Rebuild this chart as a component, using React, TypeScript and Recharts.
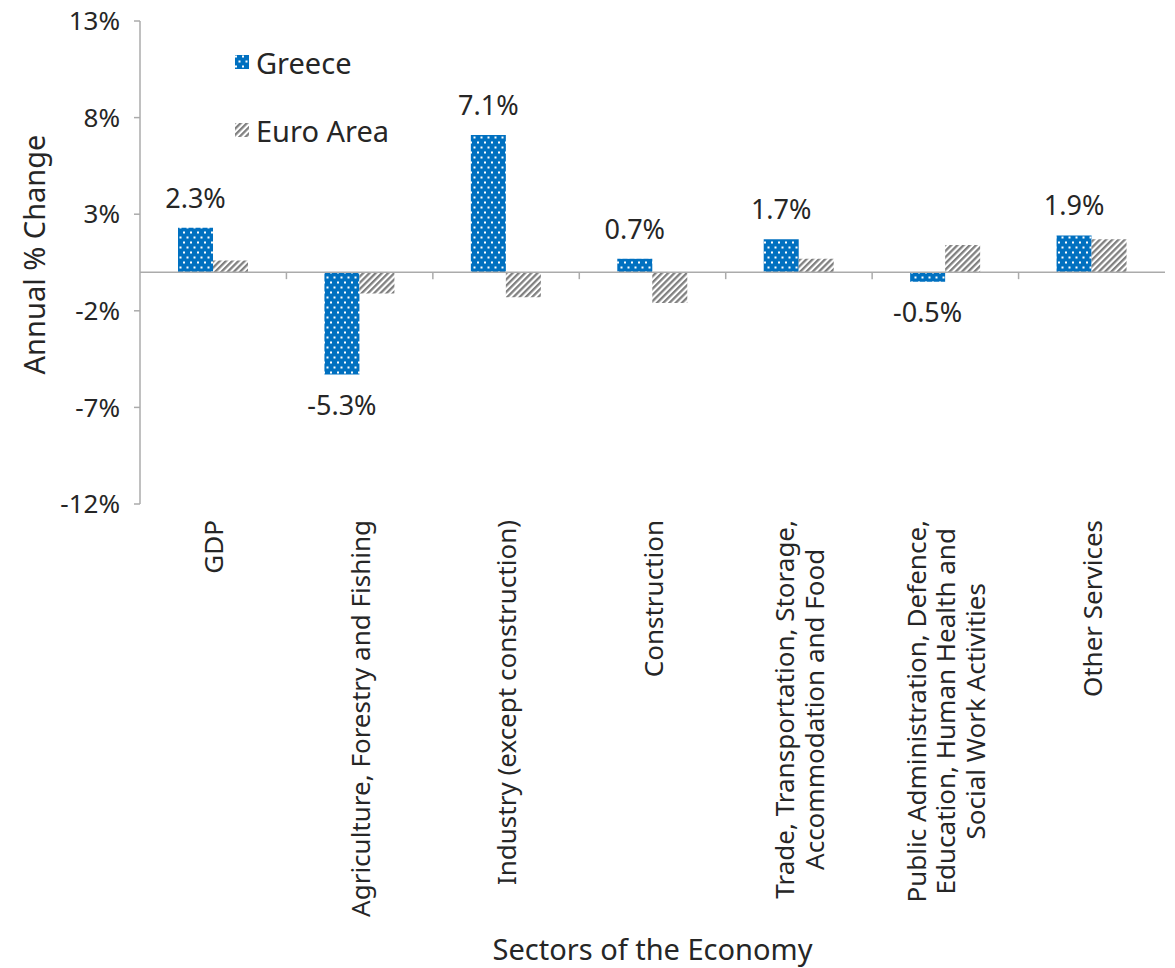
import { BarChart, Bar, XAxis, YAxis, ReferenceLine, LabelList, Legend } from "recharts";

const sectors = [
  "GDP",
  "Agriculture, Forestry and Fishing",
  "Industry (except construction)",
  "Construction",
  "Trade, Transportation, Storage,\nAccommodation and Food",
  "Public Administration, Defence,\nEducation, Human Health and\nSocial Work Activities",
  "Other Services",
];
const greece = [2.3, -5.3, 7.1, 0.7, 1.7, -0.5, 1.9];
const euroArea = [0.6, -1.1, -1.3, -1.6, 0.7, 1.4, 1.7];
const yTicks = [-12, -7, -2, 3, 8, 13];

const data = sectors.map((sector, i) => ({ sector, greece: greece[i], euroArea: euroArea[i] }));

const FONT = '"Noto Sans", sans-serif';
const TEXT = "#262626";
const AXIS = "#ababab";
const BLUE = "#0070C0";
const GREY = "#808080";

const measureCtx = typeof document !== "undefined" ? document.createElement("canvas").getContext("2d") : null;
function textWidth(s: string, font: string) {
  if (!measureCtx) return s.length * 13;
  measureCtx.font = font;
  return measureCtx.measureText(s).width;
}

function Patterns({ suffix }: { suffix: string }) {
  return (
    <defs>
      <pattern id={`dots${suffix}`} width="7" height="10" patternUnits="userSpaceOnUse">
        <rect width="7" height="10" fill={BLUE} />
        <rect x="1" y="1.5" width="2" height="2" fill="#fff" />
        <rect x="4.5" y="6.5" width="2" height="2" fill="#fff" />
      </pattern>
      <pattern id={`stripes${suffix}`} width="4.4" height="8" patternUnits="userSpaceOnUse" patternTransform="rotate(45)">
        <rect width="4.4" height="8" fill="#fff" />
        <rect width="2.3" height="8" fill={GREY} />
      </pattern>
    </defs>
  );
}

function SectorTick({ x, y, payload }: any) {
  const size = 26;
  const lines = String(payload.value).split("\n");
  const maxW = Math.max(...lines.map((l) => textWidth(l, `${size}px ${FONT}`)));
  const lh = 29.5;
  return (
    <g transform={`translate(${x},${y}) rotate(-90)`}>
      {lines.map((l, i) => (
        <text
          key={i}
          x={-maxW / 2}
          y={(i - (lines.length - 1) / 2) * lh}
          textAnchor="middle"
          dominantBaseline="central"
          fontSize={size}
          fontFamily={FONT}
          fill={TEXT}
        >
          {l}
        </text>
      ))}
    </g>
  );
}

function renderZeroTicks(props: any) {
  const vb = props.viewBox;
  if (!vb) return null;
  const step = vb.width / sectors.length;
  return (
    <g>
      {sectors.slice(1).map((_, i) => (
        <line key={i} x1={vb.x + step * (i + 1)} x2={vb.x + step * (i + 1)} y1={vb.y} y2={vb.y + 7} stroke={AXIS} strokeWidth={1.5} />
      ))}
    </g>
  );
}

function renderValueLabel(props: any) {
  const { x, y, width, height, value } = props;
  const top = Math.min(y, y + height);
  const bottom = Math.max(y, y + height);
  const ty = value >= 0 ? top - 20 : bottom + 40;
  return (
    <text x={x + width / 2} y={ty} textAnchor="middle" fontSize={27} fontFamily={FONT} fill={TEXT}>
      {`${value.toFixed(1)}%`}
    </text>
  );
}

const legendItems = [
  { name: "Greece", fill: "url(#dotsLegend)" },
  { name: "Euro Area", fill: "url(#stripesLegend)" },
];

function LegendContent() {
  return (
    <div style={{ fontFamily: FONT, fontSize: 29, color: TEXT }}>
      {legendItems.map((item) => (
        <div key={item.name} style={{ display: "flex", alignItems: "center", height: 68 }}>
          <svg width={16} height={16} style={{ marginRight: 6 }}>
            <Patterns suffix="Legend" />
            <rect x={1} y={1} width={14} height={14} fill={item.fill} />
          </svg>
          <span>{item.name}</span>
        </div>
      ))}
    </div>
  );
}

function renderYTitle(props: any) {
  const vb = props.viewBox;
  const cx = 33;
  const cy = vb.y + vb.height / 2 - 8;
  return (
    <text transform={`translate(${cx},${cy}) rotate(-90)`} textAnchor="middle" dominantBaseline="central" fontSize={29} fontFamily={FONT} fill={TEXT}>
      Annual % Change
    </text>
  );
}

function renderXTitle(props: any) {
  const vb = props.viewBox;
  return (
    <text x={vb.x + vb.width / 2} y={vb.y + vb.height - 8} textAnchor="middle" fontSize={29} fontFamily={FONT} fill={TEXT}>
      Sectors of the Economy
    </text>
  );
}

export default function App() {
  return (
    <div style={{ position: "absolute", left: 0, top: 0, background: "#fff" }}>
      <BarChart
        width={1175}
        height={968}
        data={data}
        margin={{ top: 21, right: 10, left: 0, bottom: 0 }}
        barSize={35}
        barGap={0}
      >
        <Patterns suffix="Chart" />
        <XAxis
          dataKey="sector"
          height={464}
          axisLine={false}
          tickLine={false}
          tickSize={0}
          tickMargin={16}
          interval={0}
          tick={<SectorTick />}
          label={renderXTitle}
        />
        <YAxis
          width={140}
          domain={[-12, 13]}
          ticks={yTicks}
          interval={0}
          allowDataOverflow
          axisLine={{ stroke: AXIS, strokeWidth: 1.5 }}
          tickLine={{ stroke: AXIS, strokeWidth: 1.5 }}
          tickSize={6}
          tickMargin={14}
          tickFormatter={(v) => `${v}%`}
          tick={{ fontSize: 26, fontFamily: FONT, fill: TEXT }}
          label={renderYTitle}
        />
        <Legend
          layout="vertical"
          align="center"
          verticalAlign="middle"
          wrapperStyle={{ top: 28, left: 234, width: 240 }}
          content={<LegendContent />}
        />
        <Bar dataKey="greece" name="Greece" fill="url(#dotsChart)" isAnimationActive={false}>
          <LabelList dataKey="greece" content={renderValueLabel} />
        </Bar>
        <Bar dataKey="euroArea" name="Euro Area" fill="url(#stripesChart)" isAnimationActive={false} />
        <ReferenceLine y={0} stroke={AXIS} strokeWidth={1.5} label={renderZeroTicks} />
      </BarChart>
    </div>
  );
}
